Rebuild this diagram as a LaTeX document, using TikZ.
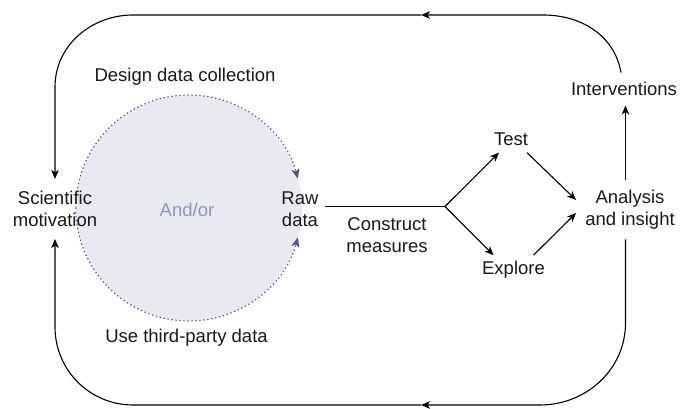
\documentclass[tikz,border=0pt]{standalone}
\usepackage{fontspec}
\setmainfont{Liberation Sans}
\usetikzlibrary{arrows.meta,positioning}
\definecolor{blobfill}{RGB}{233,234,241}
\definecolor{blobline}{RGB}{74,88,120}
\definecolor{andor}{RGB}{140,150,182}
\tikzset{
    lbl/.style={align=center,font=\fontsize{18.5}{22}\selectfont,text=black!90,inner sep=4pt},
    flow/.style={-{Stealth[length=9pt,width=7.5pt,inset=2.5pt]},line width=1.1pt},
    dotarc/.style={blobline,line width=1.1pt,dash pattern=on 1.4pt off 2.6pt,
        -{Stealth[length=10pt,width=8pt,inset=2.5pt]}}
}

\begin{document}
\begin{tikzpicture}[x=1pt,y=1pt]
    \useasboundingbox (0,0) rectangle (681,409);

    % data sources
    \node[circle,fill=blobfill,minimum size=226pt,inner sep=0pt] (blob) at (189,201) {};
    \draw[dotarc] (blob.west) arc (180:15:113);
    \draw[dotarc] (blob.west) arc (180:345:113);
    \node[lbl,text=andor] (andor) at (187,199) {And/or};
    \node[lbl] (design) at (185,332) {Design data collection};
    \node[lbl] (third) at (186.5,71) {Use third-party data};

    % main line
    \node[lbl,inner ysep=12pt] (sci) at (55,200) {Scientific\\motivation};
    \node[lbl,inner xsep=6pt] (raw) at (300,200) {Raw\\data};
    \node[lbl] (construct) at (387,174) {Construct\\measures};
    \coordinate (branch) at (445,202.5);
    \node[lbl,inner sep=7pt] (test) at (511,270) {Test};
    \node[lbl,inner sep=6pt] (explore) at (513.5,139) {Explore};
    \node[lbl,inner xsep=9pt,inner ysep=10pt] (analysis) at (630,199.5) {Analysis\\and insight};
    \node[lbl,inner ysep=9.5pt] (interv) at (624,320) {Interventions};

    \draw[line width=1.1pt] ([yshift=2.5pt]raw.east) -- (branch);
    \draw[flow] (branch) -- ([xshift=-12pt]test.south);
    \draw[flow] (branch) -- ([xshift=-20pt]explore.north);
    \draw[flow] ([xshift=16pt]test.south) -- ([yshift=9.5pt]analysis.west);
    \draw[flow] ([xshift=20pt]explore.north) -- ([yshift=-3.5pt]analysis.west);
    \draw[flow] ([xshift=-4.5pt]analysis.north) -- ([xshift=1.5pt]interv.south);

    % feedback loop
    \coordinate (topmid) at (421,394);
    \coordinate (botmid) at (421,4);
    \draw[flow] ([xshift=-3pt]interv.north) to[out=100,in=0] (543,394) -- (topmid);
    \draw[flow] (topmid) -- (133,394) to[out=180,in=90] (55,322) -- (sci.north);
    \draw[flow] ([xshift=-4.5pt]analysis.south) -- (625.5,86) to[out=-90,in=0] (540,4) -- (botmid);
    \draw[flow] (botmid) -- (133,4) to[out=180,in=-90] (55,82) -- (sci.south);
\end{tikzpicture}
\end{document}
